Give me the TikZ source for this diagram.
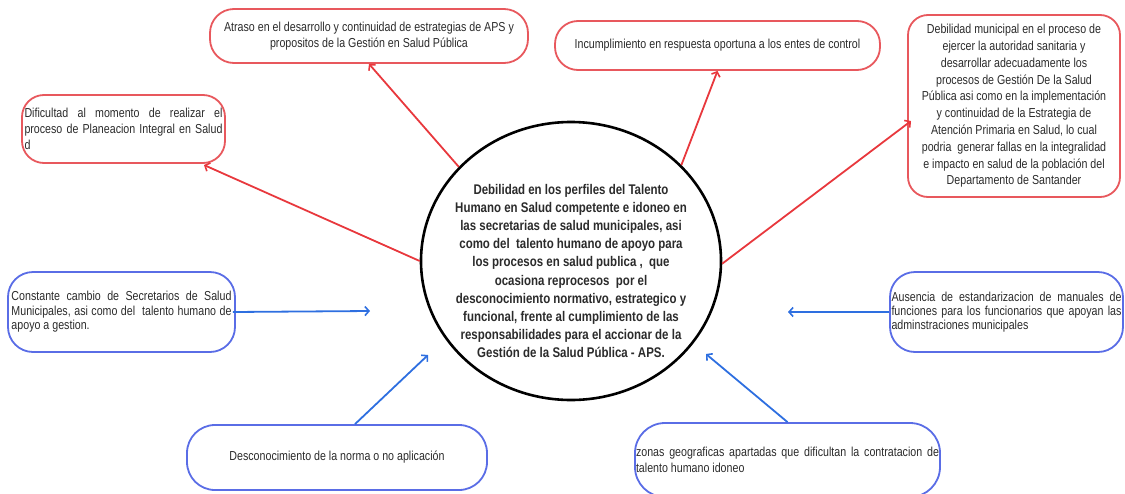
\documentclass[tikz,border=0pt]{standalone}
\usepackage{fontspec}
\setmainfont{Liberation Sans}[FakeStretch=0.82]
\usetikzlibrary{arrows.meta,shapes.geometric}
\definecolor{boxred}{HTML}{E8585D}
\definecolor{arrred}{HTML}{E8383D}
\definecolor{boxblue}{HTML}{5A6DE6}
\definecolor{arrblue}{HTML}{2E6FE0}
\definecolor{txt}{HTML}{2B2B2B}
\tikzset{
  basebox/.style={line width=1.8pt, fill=white, inner sep=0pt, text=txt},
  rbox/.style={basebox, draw=boxred},
  bbox/.style={basebox, draw=boxblue},
  rarr/.style={draw=arrred, line width=1.8pt, -{Straight Barb[length=4pt,width=9pt,line width=1.6pt]}},
  barr/.style={draw=arrblue, line width=1.8pt, -{Straight Barb[length=4pt,width=9pt,line width=1.6pt]}},
}
\begin{document}
\begin{tikzpicture}[x=1pt,y=-1pt]
\useasboundingbox (0,0) rectangle (1125,493);

% central ellipse
\node[draw=black, line width=2.6pt, ellipse, minimum width=300pt, minimum height=278pt, inner sep=0pt, fill=white] (c) at (571,261) {};
\node[text=txt, align=center, font=\bfseries\fontsize{14}{18.2}\selectfont] (ct) at (571,271)
 {Debilidad en los perfiles del Talento\\
  Humano en Salud competente e idoneo en\\
  las secretarias de salud municipales, asi\\
  como del\ \ talento humano de apoyo para\\
  los procesos en salud publica ,\ \ que\\
  ocasiona reprocesos\ \ por el\\
  desconocimiento normativo, estrategico y\\
  funcional, frente al cumplimiento de las\\
  responsabilidades para el accionar de la\\
  Gestión de la Salud Pública - APS.};

% red boxes
\node[rbox, rounded corners=22pt, minimum width=203pt, minimum height=68pt, align=left,
      font=\fontsize{13}{16.2}\selectfont] (b1) at (123.5,129)
 {\makebox[198pt][s]{Dificultad al momento de realizar el}\\
  \makebox[198pt][s]{proceso de Planeacion Integral en Salud}\\
  d};

\node[rbox, rounded corners=24pt, minimum width=318pt, minimum height=54pt, align=center,
      font=\fontsize{13}{16.7}\selectfont] (b2) at (369,36)
 {Atraso en el desarrollo y continuidad de estrategias de APS y\\
  propositos de la Gestión en Salud Pública};

\node[rbox, rounded corners=23pt, minimum width=325pt, minimum height=49pt, align=center,
      font=\fontsize{13}{16}\selectfont] (b3) at (717.5,45.5)
 {Incumplimiento en respuesta oportuna a los entes de control};

\node[rbox, rounded corners=20pt, minimum width=212pt, minimum height=182pt, align=center,
      font=\fontsize{13}{16.8}\selectfont] (b4) at (1014,106)
 {Debilidad municipal en el proceso de\\
  ejercer la autoridad sanitaria y\\
  desarrollar adecuadamente los\\
  procesos de Gestión De la Salud\\
  Pública asi como en la implementación\\
  y continuidad de la Estrategia de\\
  Atención Primaria en Salud, lo cual\\
  podria\ \ generar fallas en la integralidad\\
  e impacto en salud de la población del\\
  Departamento de Santander};

% blue boxes
\node[bbox, rounded corners=25pt, minimum width=227pt, minimum height=80pt, align=left,
      font=\fontsize{13}{14.5}\selectfont] (b5) at (121.5,312)
 {\makebox[220pt][s]{Constante cambio de Secretarios de Salud}\\
  \makebox[220pt][s]{Municipales, asi como del\ \ talento humano de}\\
  apoyo a gestion.};

\node[bbox, rounded corners=25pt, minimum width=233pt, minimum height=80pt, align=left,
      font=\fontsize{13}{14}\selectfont] (b6) at (1006.5,312)
 {\makebox[230pt][s]{Ausencia de estandarizacion de manuales de}\\
  \makebox[230pt][s]{funciones para los funcionarios que apoyan las}\\
  adminstraciones municipales};

\node[bbox, rounded corners=28pt, minimum width=300pt, minimum height=65pt, align=center,
      font=\fontsize{13}{16}\selectfont] (b7) at (337,457.5)
 {Desconocimiento de la norma o no aplicación};

\node[bbox, rounded corners=30pt, minimum width=305pt, minimum height=74pt, align=left,
      font=\fontsize{13}{16}\selectfont] (b8) at (787.5,460)
 {\makebox[303pt][s]{zonas geograficas apartadas que dificultan la contratacion de}\\
  talento humano idoneo};

% free ends
\coordinate (e1) at (204,165);
\coordinate (e4) at (911,121);
\coordinate (e5) at (370,311);
\coordinate (e6) at (788,312);
\coordinate (e7) at (428,355);
\coordinate (e8) at (706,354);

% connectors
\draw[rarr] (c.180) -- (e1);
\draw[rarr] (c.140.4) -- (b2.south);
\draw[rarr] (c.41.2) -- (b3.south);
\draw[rarr] (c.359.6) -- (e4);
\draw[barr] ([xshift=-3pt]b5.east) -- (e5);
\draw[barr] (b6.west) -- (e6);
\draw[barr] ([xshift=18pt]b7.north) -- (e7);
\draw[barr] (b8.north) -- (e8);
\end{tikzpicture}
\end{document}
